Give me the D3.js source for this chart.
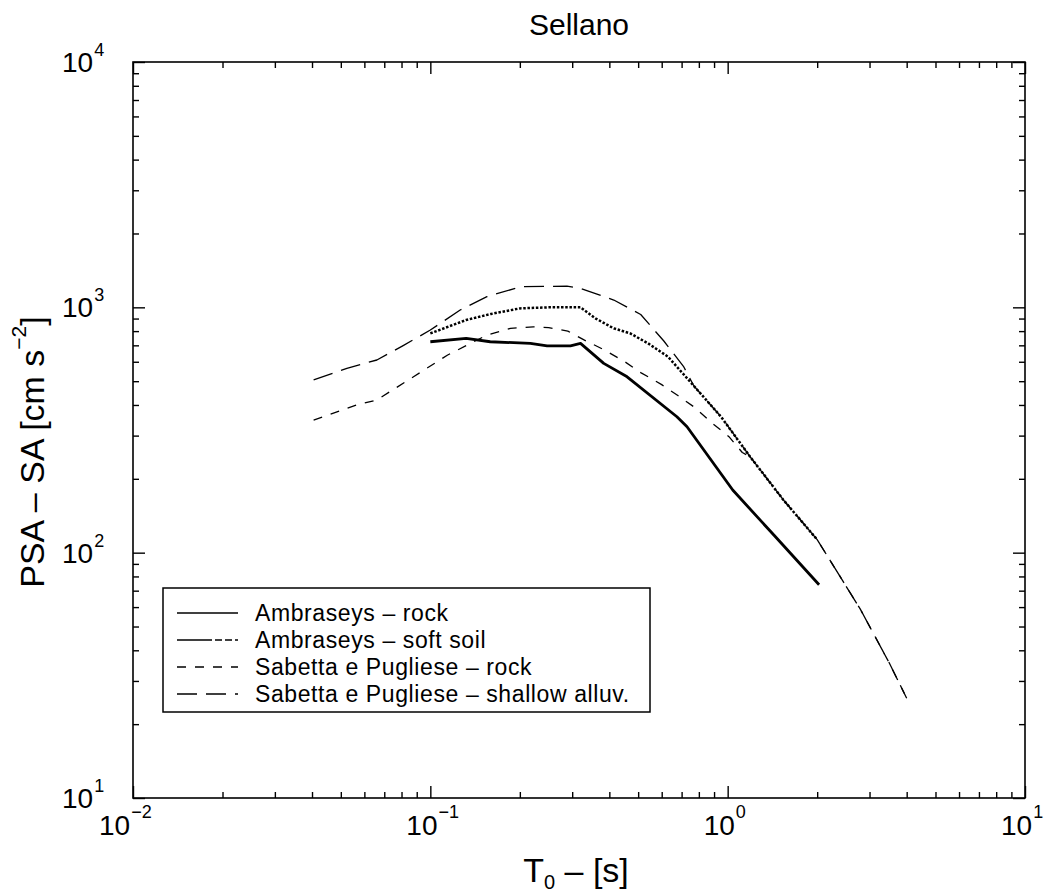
<!DOCTYPE html>
<html><head><meta charset="utf-8">
<script src="https://cdnjs.cloudflare.com/ajax/libs/d3/7.8.5/d3.min.js"></script>
<style>
body{margin:0;background:#fff}
svg{display:block}
text{font-family:"Liberation Sans",Arial,Helvetica,sans-serif;fill:#000}
</style>
</head><body>
<svg id="c" width="1048" height="892"></svg>
<script>
// ---- data ----
const titleText = "Sellano";
const xMajor = [0.01, 0.1, 1, 10];
const xExp = ["\u22122", "\u22121", "0", "1"];
const yMajor = [10, 100, 1000, 10000];
const yExp = ["1", "2", "3", "4"];

const ambRockT  = [0.1, 0.132, 0.159, 0.217, 0.247, 0.296, 0.32, 0.383, 0.459, 0.675, 0.73, 1.04, 1.43, 2.03];
const ambRockSA = [724, 747, 724, 713, 696, 696, 713, 591, 521, 358, 326, 180, 118, 74];

const ambSoftT  = [0.1, 0.132, 0.16, 0.2, 0.25, 0.32, 0.36, 0.414, 0.47, 0.54, 0.63, 0.77, 0.95, 1.19, 1.54, 2.0];
const ambSoftSA = [783, 888, 940, 990, 1000, 1000, 900, 821, 783, 713, 629, 478, 358, 246, 164, 113];

const sabRockT  = [0.0405, 0.0566, 0.066, 0.0878, 0.114, 0.155, 0.186, 0.222, 0.25, 0.29, 0.33, 0.385, 0.45, 0.51, 0.6, 0.68, 0.77, 0.89, 1.01, 1.12, 1.19, 1.54, 2.0, 2.79, 3.5, 4.0];
const sabRockSA = [347, 400, 419, 521, 638, 771, 821, 833, 826, 800, 735, 670, 601, 542, 484, 437, 393, 336, 297, 256, 246, 164, 113, 59, 35.4, 25.5];

const sabAlluvT  = [0.0405, 0.0524, 0.0661, 0.0813, 0.1, 0.126, 0.155, 0.201, 0.288, 0.32, 0.414, 0.51, 0.61, 0.71, 0.77, 0.95, 1.19, 1.54, 2.0, 2.79, 3.5, 4.0];
const sabAlluvSA = [506, 564, 610, 700, 808, 975, 1105, 1213, 1220, 1195, 1071, 935, 729, 575, 478, 358, 246, 164, 113, 59, 35.4, 25.5];

const legendLabels = ["Ambraseys \u2013 rock", "Ambraseys \u2013 soft soil", "Sabetta e Pugliese \u2013 rock", "Sabetta e Pugliese \u2013 shallow alluv."];

// ---- layout ----
const L = 133, R = 1025, T = 62, B = 798;
const svg = d3.select("#c");
const x = d3.scaleLog().domain([0.01, 10]).range([L, R]);
const y = d3.scaleLog().domain([10, 10000]).range([B, T]);

const series = [
  {t: sabAlluvT, v: sabAlluvSA, w: 1.3, dash: "20,9"},
  {t: sabRockT,  v: sabRockSA,  w: 1.3, dash: "9,9"},
  {t: ambSoftT,  v: ambSoftSA,  w: 2.5, dash: "2.5,1.7"},
  {t: ambRockT,  v: ambRockSA,  w: 2.8, dash: null}
];
const legendOrder = [3, 2, 1, 0];

// ---- axes ----
const xAll = x.ticks();
const yAll = y.ticks();
const xMinor = xAll.filter(d => !xMajor.some(m => Math.abs(m - d) / m < 1e-6));
const yMinor = yAll.filter(d => !yMajor.some(m => Math.abs(m - d) / m < 1e-6));

function addAxis(gen, tx, ty) {
  const g = svg.append("g").attr("transform", `translate(${tx},${ty})`).call(gen);
  g.select(".domain").remove();
  g.selectAll("line").attr("stroke", "#000").attr("stroke-width", 1.4);
  g.selectAll("text").remove();
}
addAxis(d3.axisBottom(x).tickValues(xMinor).tickSize(-6), 0, B);
addAxis(d3.axisBottom(x).tickValues(xMajor).tickSize(-12), 0, B);
addAxis(d3.axisTop(x).tickValues(xMinor).tickSize(-6), 0, T);
addAxis(d3.axisTop(x).tickValues(xMajor).tickSize(-12), 0, T);
addAxis(d3.axisLeft(y).tickValues(yMinor).tickSize(-6), L, 0);
addAxis(d3.axisLeft(y).tickValues(yMajor).tickSize(-12), L, 0);
addAxis(d3.axisRight(y).tickValues(yMinor).tickSize(-6), R, 0);
addAxis(d3.axisRight(y).tickValues(yMajor).tickSize(-12), R, 0);

svg.append("rect").attr("x", L).attr("y", T).attr("width", R - L).attr("height", B - T)
  .attr("fill", "none").attr("stroke", "#000").attr("stroke-width", 1.6);

// tick labels
xMajor.forEach((v, i) => {
  const shift = i === 0 ? -34 : -24;
  const t = svg.append("text").attr("x", x(v) + shift).attr("y", B + 37).attr("font-size", 28);
  t.append("tspan").text("10");
  t.append("tspan").attr("font-size", 18).attr("dy", -17).attr("dx", 1).text(xExp[i]);
});
yMajor.forEach((v, i) => {
  const t = svg.append("text").attr("x", L - 71).attr("y", y(v) + 10).attr("font-size", 28);
  t.append("tspan").text("10");
  t.append("tspan").attr("font-size", 18).attr("dy", -16).attr("dx", 1).text(yExp[i]);
});

// titles
svg.append("text").attr("x", (L + R) / 2).attr("y", 35).attr("text-anchor", "middle")
  .attr("font-size", 30).text(titleText);

const xt = svg.append("text").attr("x", 576).attr("y", 882).attr("text-anchor", "middle").attr("font-size", 34);
xt.append("tspan").text("T");
xt.append("tspan").attr("font-size", 20).attr("dy", 7).text("0");
xt.append("tspan").attr("dy", -7).text(" \u2013 [s]");

const yt = svg.append("text").attr("transform", `translate(44,452) rotate(-90)`)
  .attr("text-anchor", "middle").attr("font-size", 34);
yt.append("tspan").text("PSA \u2013 SA [cm s");
yt.append("tspan").attr("font-size", 21).attr("dy", -18).text("\u22122");
yt.append("tspan").attr("dy", 18).text("]");

// ---- curves ----
const line = d3.line().x(d => x(d[0])).y(d => y(d[1]));
svg.append("clipPath").attr("id", "pc").append("rect")
  .attr("x", L).attr("y", T).attr("width", R - L).attr("height", B - T);
series.forEach(s => {
  const pts = s.t.map((t, i) => [t, s.v[i]]);
  const p = svg.append("path").datum(pts).attr("d", line).attr("fill", "none")
    .attr("stroke", "#000").attr("stroke-width", s.w).attr("clip-path", "url(#pc)")
    .attr("stroke-linejoin", "round");
  if (s.dash) p.attr("stroke-dasharray", s.dash);
});

// ---- legend ----
svg.append("rect").attr("x", 163).attr("y", 588).attr("width", 487).attr("height", 124)
  .attr("fill", "#fff").attr("stroke", "#000").attr("stroke-width", 1.5);
legendOrder.forEach((si, i) => {
  const s = series[si];
  const yy = 613 + i * 27;
  const l = svg.append("line").attr("x1", 177).attr("x2", 238).attr("y1", yy).attr("y2", yy)
    .attr("stroke", "#000").attr("stroke-width", Math.min(s.w, 1.6));
  if (s.dash) l.attr("stroke-dasharray", si === 2 ? "35,3,7,3,7,3" : s.dash);
  svg.append("text").attr("x", 255).attr("y", yy + 8).attr("font-size", 23)
    .attr("letter-spacing", 0.6).text(legendLabels[i]);
});
</script>
</body></html>
